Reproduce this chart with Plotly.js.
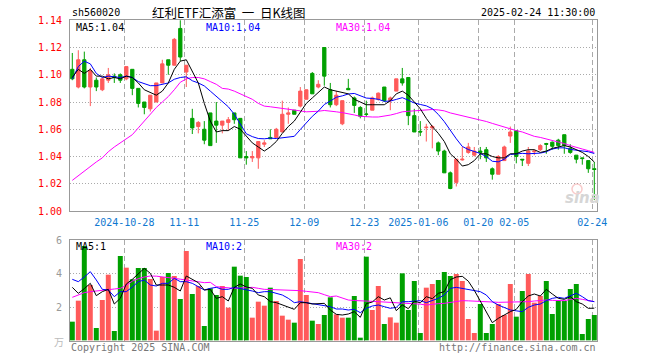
<!DOCTYPE html>
<html><head><meta charset="utf-8">
<script src="https://cdn.plot.ly/plotly-3.0.1.min.js"></script>
<style>html,body{margin:0;padding:0;background:#fff}#c{width:660px;height:360px}</style>
</head><body><div id="c"></div>
<script>
const dates = ["2024-10-15","2024-10-16","2024-10-17","2024-10-18","2024-10-21","2024-10-22","2024-10-23","2024-10-24","2024-10-25","2024-10-28","2024-10-29","2024-10-30","2024-10-31",
"2024-11-01","2024-11-04","2024-11-05","2024-11-06","2024-11-07","2024-11-08","2024-11-11","2024-11-12","2024-11-13","2024-11-14","2024-11-15","2024-11-18","2024-11-19","2024-11-20","2024-11-21","2024-11-22","2024-11-25","2024-11-26","2024-11-27","2024-11-28","2024-11-29",
"2024-12-02","2024-12-03","2024-12-04","2024-12-05","2024-12-06","2024-12-09","2024-12-10","2024-12-11","2024-12-12","2024-12-13","2024-12-16","2024-12-17","2024-12-18","2024-12-19","2024-12-20","2024-12-23","2024-12-24","2024-12-25","2024-12-26","2024-12-27","2024-12-30","2024-12-31",
"2025-01-02","2025-01-03","2025-01-06","2025-01-07","2025-01-08","2025-01-09","2025-01-10","2025-01-13","2025-01-14","2025-01-15","2025-01-16","2025-01-17","2025-01-20","2025-01-21","2025-01-22","2025-01-23","2025-01-24","2025-01-27",
"2025-02-05","2025-02-06","2025-02-07","2025-02-10","2025-02-11","2025-02-12","2025-02-13","2025-02-14","2025-02-17","2025-02-18","2025-02-19","2025-02-20","2025-02-21","2025-02-24"];

const tickDates = ["2024-10-28","2024-11-11","2024-11-25","2024-12-09","2024-12-23","2025-01-06","2025-01-20","2025-02-05","2025-02-24"];
const tickLabels = ["2024-10-28","11-11","11-25","12-09","12-23","2025-01-06","01-20","02-05","02-24"];

const open = [1.104,1.091,1.111,1.091,1.096,1.089,1.096,1.099,1.100,1.097,1.104,1.090,1.080,1.075,1.080,1.094,1.111,1.107,1.134,1.102,
1.068,1.062,1.060,1.072,1.066,1.063,1.065,1.072,1.068,1.040,1.039,1.039,1.049,1.054,1.054,1.058,1.071,1.074,1.077,1.082,
1.101,1.091,1.120,1.089,1.078,1.064,1.090,1.083,1.076,1.0712,1.074,1.082,1.091,1.081,1.088,1.097,1.098,1.070,1.0585,1.0612,
1.061,1.050,1.044,1.028,1.021,1.0375,1.043,1.041,1.044,1.045,1.031,1.027,1.037,1.055,1.059,1.038,1.035,1.0435,1.045,1.0495,
1.0505,1.052,1.056,1.046,1.041,1.039,1.037,1.031];
const high = [1.116,1.118,1.117,1.105,1.098,1.098,1.105,1.101,1.101,1.106,1.104,1.090,1.080,1.085,1.094,1.111,1.111,1.127,1.140,1.107,
1.075,1.066,1.066,1.072,1.080,1.066,1.069,1.072,1.068,1.044,1.044,1.051,1.052,1.060,1.061,1.081,1.076,1.074,1.091,1.089,
1.102,1.096,1.120,1.094,1.088,1.081,1.097,1.084,1.077,1.081,1.084,1.087,1.091,1.084,1.097,1.105,1.098,1.075,1.066,1.064,
1.063,1.051,1.045,1.029,1.038,1.047,1.050,1.047,1.047,1.047,1.032,1.041,1.048,1.062,1.059,1.038,1.047,1.045,1.049,1.050,
1.051,1.053,1.056,1.049,1.041,1.039,1.037,1.036];
const low = [1.096,1.090,1.090,1.077,1.088,1.088,1.094,1.094,1.094,1.096,1.085,1.076,1.071,1.073,1.080,1.094,1.100,1.107,1.110,1.091,
1.0565,1.057,1.049,1.048,1.050,1.057,1.059,1.064,1.039,1.034,1.036,1.031,1.047,1.053,1.054,1.058,1.064,1.071,1.076,1.082,
1.086,1.090,1.092,1.076,1.077,1.063,1.089,1.072,1.068,1.069,1.074,1.081,1.080,1.074,1.088,1.092,1.063,1.058,1.055,1.051,
1.046,1.041,1.028,1.016,1.018,1.037,1.042,1.040,1.038,1.036,1.023,1.027,1.037,1.050,1.035,1.033,1.033,1.041,1.044,1.042,
1.045,1.045,1.042,1.042,1.035,1.034,1.028,1.008];
const close = [1.097,1.111,1.091,1.103,1.091,1.097,1.100,1.098,1.096,1.106,1.090,1.079,1.076,1.085,1.094,1.108,1.107,1.126,1.113,1.107,
1.061,1.065,1.052,1.048,1.063,1.066,1.067,1.067,1.039,1.039,1.040,1.051,1.050,1.053,1.060,1.071,1.072,1.071,1.088,1.089,
1.086,1.093,1.099,1.078,1.085,1.081,1.089,1.0775,1.0695,1.071,1.083,1.0865,1.081,1.083,1.097,1.094,1.070,1.058,1.058,1.0615,
1.062,1.044,1.028,1.0165,1.038,1.038,1.047,1.044,1.043,1.039,1.027,1.040,1.047,1.058,1.040,1.0375,1.044,1.044,1.048,1.049,
1.0475,1.048,1.048,1.043,1.038,1.0385,1.031,1.0305];

const ma5 = [1.098,1.104,1.101,1.104,1.099,1.099,1.097,1.098,1.097,1.099,1.098,1.094,1.089,1.087,1.085,1.088,1.094,1.104,1.110,1.111,
1.103,1.094,1.079,1.066,1.058,1.059,1.059,1.062,1.060,1.055,1.050,1.047,1.044,1.047,1.051,1.057,1.062,1.066,1.073,1.079,
1.083,1.087,1.091,1.089,1.088,1.087,1.086,1.082,1.080,1.078,1.078,1.078,1.078,1.081,1.086,1.088,1.085,1.080,1.075,1.068,
1.062,1.057,1.051,1.042,1.038,1.033,1.034,1.037,1.042,1.042,1.040,1.039,1.039,1.042,1.042,1.044,1.045,1.045,1.043,1.044,
1.046,1.047,1.048,1.047,1.045,1.043,1.040,1.036];
const ma10 = [1.097,1.106,1.110,1.108,1.101,1.098,1.099,1.0985,1.098,1.099,1.098,1.095,1.0936,1.092,1.092,1.093,1.094,1.0967,1.098,1.0985,
1.0956,1.094,1.0918,1.088,1.084,1.0805,1.0765,1.071,1.0635,1.0567,1.0546,1.0532,1.053,1.0535,1.0532,1.0537,1.0542,1.0548,1.0598,1.0645,
1.0695,1.0733,1.0782,1.0807,1.0835,1.0845,1.0859,1.0863,1.0847,1.0829,1.0826,1.082,1.0805,1.0807,1.0819,1.0832,1.0813,1.0793,1.0782,1.0772,
1.0751,1.0709,1.0656,1.0589,1.053,1.0474,1.0451,1.0437,1.0422,1.040,1.0365,1.0361,1.038,1.0415,1.042,1.0423,1.042,1.042,1.0425,1.0435,
1.0455,1.0463,1.0464,1.0452,1.0447,1.0445,1.0435,1.0422];
const ma30 = [1.0225,1.026,1.029,1.033,1.036,1.039,1.0435,1.047,1.050,1.053,1.056,1.061,1.066,1.071,1.076,1.080,1.084,1.089,1.0945,1.097,
1.098,1.098,1.097,1.095,1.093,1.090,1.0895,1.088,1.086,1.084,1.082,1.079,1.077,1.0765,1.076,1.0755,1.075,1.074,1.0735,1.0728,
1.0728,1.0732,1.0738,1.0735,1.0728,1.0722,1.0715,1.0705,1.0695,1.069,1.069,1.069,1.0696,1.0704,1.0715,1.0728,1.0732,1.0736,1.074,1.0745,
1.0745,1.0742,1.0735,1.072,1.071,1.0698,1.069,1.068,1.067,1.0657,1.0643,1.063,1.0613,1.0603,1.059,1.058,1.0565,1.0548,1.054,1.053,
1.052,1.051,1.0495,1.048,1.047,1.0455,1.0443,1.043];

const vol = [1.12,2.38,5.66,3.32,0.74,2.42,3.94,0.56,5.06,4.36,3.66,4.34,4.34,3.68,0.58,3.80,4.04,3.86,2.48,5.36,
2.78,3.26,0.86,3.12,2.72,3.26,1.96,4.42,3.88,3.80,1.36,2.32,2.08,3.16,2.36,1.48,1.24,1.06,4.88,2.72,
1.18,0.98,1.52,2.58,1.56,1.36,1.36,2.66,0.16,5.02,1.82,3.26,0.98,1.38,1.06,4.02,1.82,3.56,0.44,3.16,
3.38,3.62,4.10,3.86,3.98,3.56,1.28,0.44,2.18,0.44,0.98,2.18,1.52,3.38,1.42,2.96,3.98,2.26,2.66,3.56,
1.58,2.36,2.36,3.08,3.38,0.38,1.28,1.52];
const vma5 = [3.18,2.82,3.10,3.42,2.68,2.92,3.06,2.18,2.52,3.38,3.66,4.00,4.32,4.02,3.32,3.32,3.32,3.18,2.96,3.86,
3.66,3.46,3.02,3.06,2.52,2.62,2.36,3.18,3.38,3.20,3.12,2.72,2.62,2.32,2.26,2.12,2.02,1.86,2.26,2.26,
2.18,2.18,2.22,1.82,1.56,1.52,1.58,1.72,1.38,2.20,2.30,2.62,2.42,2.55,1.78,2.12,1.90,2.35,2.25,2.62,
2.50,2.82,2.92,3.64,3.80,3.84,3.55,3.00,2.35,1.62,1.06,1.32,1.52,1.72,1.86,2.32,2.66,2.78,2.66,3.06,
2.78,2.52,2.46,2.62,2.32,2.18,1.92,1.93];
const vma10 = [3.66,3.52,3.80,4.12,3.62,3.06,3.02,2.62,2.92,2.92,3.20,3.52,3.62,3.32,3.26,3.42,3.42,3.72,3.52,3.52,
3.42,3.22,3.02,3.12,3.18,3.06,3.06,3.18,3.12,3.06,2.96,2.86,2.92,2.92,2.82,2.72,2.52,2.26,2.32,2.26,
2.22,2.12,2.06,2.02,1.88,1.88,1.82,1.86,1.66,1.92,2.06,2.12,2.02,1.92,1.98,2.32,2.32,2.35,2.38,2.26,
2.38,2.52,2.72,3.12,3.18,3.12,3.02,2.97,2.92,2.72,2.32,2.12,1.98,1.82,1.77,1.72,1.98,2.12,2.18,2.38,
2.52,2.58,2.52,2.67,2.82,2.62,2.38,2.32];
const vma30 = [2.58,2.72,2.86,2.92,2.97,3.02,3.05,3.08,3.12,3.30,3.55,3.70,3.80,3.86,3.85,3.82,3.77,3.72,3.67,3.62,
3.57,3.52,3.46,3.48,3.22,3.18,3.15,3.12,3.14,3.16,3.18,3.12,3.06,3.05,3.04,3.02,3.00,2.99,2.98,2.94,
2.90,2.86,2.74,2.62,2.66,2.52,2.42,2.39,2.36,2.35,2.34,2.32,2.30,2.28,2.26,2.25,2.24,2.22,2.17,2.12,
2.18,2.20,2.22,2.27,2.32,2.38,2.37,2.36,2.36,2.33,2.30,2.28,2.28,2.28,2.29,2.30,2.32,2.36,2.39,2.42,
2.40,2.39,2.38,2.45,2.52,2.46,2.38,2.32];

const priceTicks = [1.00,1.02,1.04,1.06,1.08,1.10,1.12,1.14];
const volTicks = [2,4,6];

const RED = '#ff5a5a', GREEN = '#00a000';
const x = dates.map((d, i) => i);
const tickPos = tickDates.map(d => dates.indexOf(d) - 1/3);
const volColors = close.map((c, i) => c >= open[i] ? RED : GREEN);

const L = 70, R = 597, T = 20, B = 341;
const px = v => (v - L) / (R - L);
const py = v => (B - v) / (B - T);

const traces = [
  {type:'candlestick', x:x, open:open, high:high, low:low, close:close, xaxis:'x', yaxis:'y',
   increasing:{line:{color:RED,width:1}, fillcolor:RED},
   decreasing:{line:{color:GREEN,width:1}, fillcolor:GREEN},
   whiskerwidth:0, hoverinfo:'none'},
  {type:'scatter', mode:'lines', x:x, y:ma30, line:{color:'#ff00ff',width:1}, xaxis:'x', yaxis:'y', hoverinfo:'none'},
  {type:'scatter', mode:'lines', x:x, y:ma10, line:{color:'#0000ff',width:1}, xaxis:'x', yaxis:'y', hoverinfo:'none'},
  {type:'scatter', mode:'lines', x:x, y:ma5, line:{color:'#000000',width:1}, xaxis:'x', yaxis:'y', hoverinfo:'none'},
  {type:'bar', x:x, y:vol, width:0.83, marker:{color:volColors, line:{width:0}}, xaxis:'x2', yaxis:'y2', hoverinfo:'none'},
  {type:'scatter', mode:'lines', x:x, y:vma30, line:{color:'#ff00ff',width:1}, xaxis:'x2', yaxis:'y2', hoverinfo:'none'},
  {type:'scatter', mode:'lines', x:x, y:vma10, line:{color:'#0000ff',width:1}, xaxis:'x2', yaxis:'y2', hoverinfo:'none'},
  {type:'scatter', mode:'lines', x:x, y:vma5, line:{color:'#000000',width:1}, xaxis:'x2', yaxis:'y2', hoverinfo:'none'}
];

const MONO = 'DejaVu Sans Mono, Liberation Mono, monospace';
const xRange = [-0.383, 87.45];
const common = {showline:true, mirror:true, linecolor:'#999', linewidth:1, zeroline:false, ticks:'', fixedrange:true};

function ann(text, xp, yp, anchor, color, size, family) {
  return {text:text, x:px(xp), y:py(yp), xref:'paper', yref:'paper', xanchor:anchor, yanchor:'middle',
    showarrow:false, font:{family:family||MONO, size:size||10, color:color||'#000'}};
}

const layout = {
  width:660, height:360,
  margin:{l:L, r:660-R, t:T, b:360-B, pad:0},
  paper_bgcolor:'#fff', plot_bgcolor:'#fff',
  showlegend:false,
  font:{family:MONO, size:10, color:'#000'},
  boxgap:0.22,
  xaxis:Object.assign({}, common, {domain:[0,1], anchor:'y', range:xRange, tickmode:'array', tickvals:tickPos, ticktext:tickLabels,
    showgrid:true, gridcolor:'#aaa', griddash:'5px,3px', gridwidth:1, tickfont:{family:MONO, size:10, color:'#1078d0'},
    ticklabelstandoff:2, rangeslider:{visible:false}}),
  yaxis:Object.assign({}, common, {domain:[(B-211)/(B-T),1], anchor:'x', range:[1.0,1.1402], tickmode:'array',
    tickvals:priceTicks, ticktext:priceTicks.map(v=>v.toFixed(2)), showgrid:true, gridcolor:'#aaa', griddash:'1px,2px',
    tickfont:{family:MONO, size:10, color:'#ff0000'}, ticklabelstandoff:5}),
  xaxis2:Object.assign({}, common, {domain:[0,1], anchor:'y2', range:xRange, tickmode:'array', tickvals:tickPos,
    showticklabels:false, showgrid:true, gridcolor:'#aaa', griddash:'5px,3px'}),
  yaxis2:Object.assign({}, common, {domain:[0,(B-240)/(B-T)], anchor:'x2', range:[-0.04,6.02], tickmode:'array',
    tickvals:volTicks, ticktext:volTicks.map(String), showgrid:true, gridcolor:'#aaa', griddash:'1px,2px',
    tickfont:{family:MONO, size:10, color:'#999'}, ticklabelstandoff:5}),
  annotations:[
    ann('sh560020', 70, 12, 'left'),
    ann('红利ETF汇添富&nbsp;&nbsp;一&nbsp;&nbsp;日K线图', 150, 12, 'left', '#000', 12.5, 'Noto Sans CJK SC'),
    ann('2025-02-24 11:30:00', 597, 12, 'right'),
    ann('MA5:1.04', 74, 27, 'left', '#000'),
    ann('MA10:1.04', 204, 27, 'left', '#0000ff'),
    ann('MA30:1.04', 334, 27, 'left', '#ff00ff'),
    ann('MA5:1', 74, 246, 'left', '#000'),
    ann('MA10:2', 204, 246, 'left', '#0000ff'),
    ann('MA30:2', 334, 246, 'left', '#ff00ff'),
    ann('Copyright 2025 SINA.COM', 69, 347, 'left', '#777'),
    ann('http://finance.sina.com.cn', 598, 347, 'right', '#777'),
    ann('万', 66, 342, 'right', '#bbb', 10, 'Noto Sans CJK SC'),
    {text:'<b><i>sina</i></b>', x:px(582), y:py(198), xref:'paper', yref:'paper', xanchor:'center', yanchor:'middle',
     showarrow:false, font:{family:'DejaVu Sans', size:15, color:'#d6d6d6'}}
  ],
  shapes:[
    {type:'circle', xref:'paper', yref:'paper', x0:px(572), x1:px(582), y0:py(194), y1:py(184),
     line:{color:'rgba(240,140,140,0.45)', width:1.5}, fillcolor:'rgba(0,0,0,0)'}
  ]
};

Plotly.newPlot('c', traces, layout, {staticPlot:true, displayModeBar:false});
</script>
</body></html>
